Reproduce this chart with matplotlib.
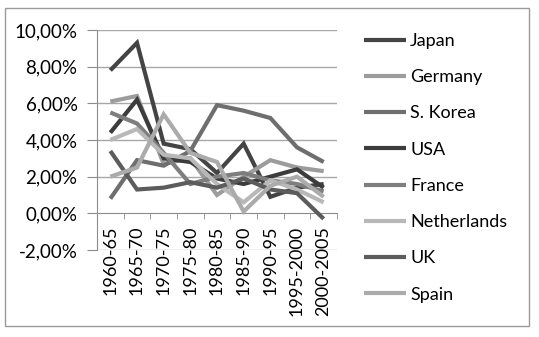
import matplotlib
matplotlib.use("Agg")
import matplotlib.pyplot as plt
import numpy as np

categories = ["1960-65", "1965-70", "1970-75", "1975-80", "1980-85",
              "1985-90", "1990-95", "1995-2000", "2000-2005"]
japan       = [7.8, 9.3, 3.8, 3.5, 2.2, 3.8, 0.9, 1.4, 1.6]
germany     = [6.1, 6.4, 2.7, 3.0, 1.0, 2.0, 2.9, 2.5, 2.3]
s_korea     = [0.8, 2.9, 2.6, 3.4, 5.9, 5.6, 5.2, 3.6, 2.8]
usa         = [4.4, 6.2, 3.0, 2.8, 1.9, 1.6, 2.0, 2.4, 1.4]
france      = [5.5, 4.9, 3.3, 1.6, 2.0, 2.2, 1.8, 1.6, 1.2]
netherlands = [4.0, 4.6, 3.2, 3.0, 1.6, 0.6, 1.8, 1.3, 0.6]
uk          = [3.4, 1.3, 1.4, 1.7, 1.4, 1.9, 1.3, 1.1, -0.3]
spain       = [2.0, 2.5, 5.4, 3.3, 2.8, 0.1, 1.5, 2.0, 0.9]
series_names = ["Japan", "Germany", "S. Korea", "USA", "France",
                "Netherlands", "UK", "Spain"]
series_vals = [japan, germany, s_korea, usa, france, netherlands, uk, spain]
colors = ["#444444", "#9c9c9c", "#6e6e6e", "#3c3c3c", "#7e7e7e",
          "#b8b8b8", "#5c5c5c", "#ababab"]
yticks = [-2, 0, 2, 4, 6, 8, 10]
ytick_labels = ["-2,00%", "0,00%", "2,00%", "4,00%", "6,00%", "8,00%", "10,00%"]

plt.rcParams['font.family'] = ['Lato', 'DejaVu Sans']

W, H = 539, 337
fig = plt.figure(figsize=(W / 100, H / 100), dpi=100)
ax = fig.add_axes([97 / W, 1 - 250 / H, 240 / W, 220 / H])

x = np.arange(len(categories))
handles = []
for name, vals, c in zip(series_names, series_vals, colors):
    h, = ax.plot(x, vals, color=c, lw=3.0, label=name, solid_capstyle='butt',
                 solid_joinstyle='miter', zorder=3)
    handles.append(h)

ax.set_xlim(-0.5, len(categories) - 0.5)
ax.set_ylim(-2, 10)
ax.set_yticks(yticks)
ax.set_yticklabels(ytick_labels)
for yv in yticks:
    if yv != 0:
        ax.axhline(yv, color="#a8a8a8", lw=1.0, zorder=1)

for s in ["top", "right"]:
    ax.spines[s].set_visible(False)
ax.spines["left"].set_color("#8c8c8c")
ax.spines["bottom"].set_position(("data", 0))
ax.spines["bottom"].set_color("#8c8c8c")

ax.set_xticks(x)
ax.set_xticklabels(categories, rotation=90, va="top")
ax.set_xticks(np.arange(-0.5, len(categories)), minor=True)
ax.tick_params(axis="x", which="major", length=0, pad=9, labelsize=13)
ax.tick_params(axis="x", which="minor", length=4, color="#8c8c8c", direction="out")
ax.tick_params(axis="y", length=7, color="#8c8c8c", pad=7, labelsize=13.5)

leg = fig.legend(handles=handles, loc="upper left",
                 bbox_to_anchor=(364 / W, 1 - 33 / H), frameon=False,
                 fontsize=13, handlelength=2.3, handletextpad=0.25,
                 labelspacing=1.12, borderpad=0, borderaxespad=0)

fig.patches.append(plt.Rectangle((5 / W, 1 - 326 / H), 524 / W, 318 / H,
                                 transform=fig.transFigure, fill=False,
                                 edgecolor="#9a9a9a", lw=1.0))

fig.savefig("out.png", dpi=100)
